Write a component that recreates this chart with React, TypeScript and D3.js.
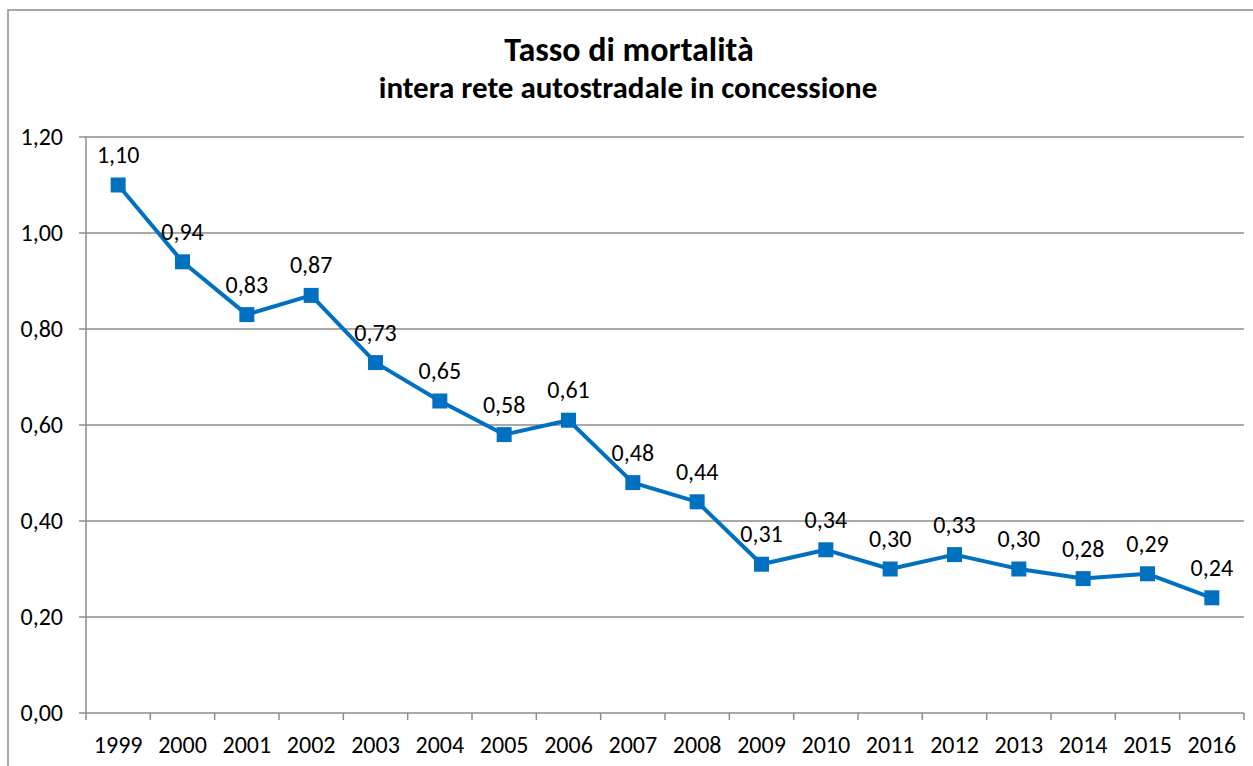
import React, { useEffect, useRef } from "react";
import * as d3 from "d3";

const years = ["1999", "2000", "2001", "2002", "2003", "2004", "2005", "2006", "2007", "2008", "2009", "2010", "2011", "2012", "2013", "2014", "2015", "2016"];
const rates = [1.10, 0.94, 0.83, 0.87, 0.73, 0.65, 0.58, 0.61, 0.48, 0.44, 0.31, 0.34, 0.30, 0.33, 0.30, 0.28, 0.29, 0.24];
const yTicks = [0, 0.2, 0.4, 0.6, 0.8, 1.0, 1.2];
const title = "Tasso di mortalità";
const subtitle = "intera rete autostradale in concessione";

const fmt = (v: number) => v.toFixed(2).replace(".", ",");

const App = () => {
    const ref = useRef<SVGSVGElement>(null);

    useEffect(() => {
        const svg = d3.select(ref.current);
        svg.selectAll("*").remove();

        const width = 1253, height = 766;
        const margin = { top: 137, right: 9, bottom: 53, left: 86 };
        const font = "Carlito, 'Open Sans', 'Liberation Sans', sans-serif";

        // outer frame (right/bottom fall outside the picture)
        svg.append("rect")
            .attr("x", 8).attr("y", 10)
            .attr("width", 1300).attr("height", 800)
            .attr("fill", "white")
            .attr("stroke", "#8c8c8c").attr("stroke-width", 1.5);

        const x = d3.scaleBand().domain(years).range([margin.left, width - margin.right]);
        const y = d3.scaleLinear().domain([0, 1.2]).range([height - margin.bottom, margin.top]);

        // gridlines
        svg.append("g")
            .selectAll("line")
            .data(yTicks)
            .join("line")
            .attr("x1", margin.left - 7)
            .attr("x2", width - margin.right)
            .attr("y1", d => y(d))
            .attr("y2", d => y(d))
            .attr("stroke", "#8c8c8c")
            .attr("stroke-width", 1.5);

        // y axis line
        svg.append("line")
            .attr("x1", margin.left).attr("x2", margin.left)
            .attr("y1", y(1.2)).attr("y2", y(0))
            .attr("stroke", "#8c8c8c").attr("stroke-width", 1.5);

        // y labels
        svg.append("g")
            .selectAll("text")
            .data(yTicks)
            .join("text")
            .attr("x", 63)
            .attr("y", d => y(d) + 8)
            .attr("text-anchor", "end")
            .attr("font-family", font)
            .attr("font-size", 24)
            .attr("fill", "#000")
            .text(d => fmt(d));

        // x tick marks at band edges
        const edges = years.map(d => x(d) as number).concat([width - margin.right]);
        svg.append("g")
            .selectAll("line")
            .data(edges)
            .join("line")
            .attr("x1", d => d).attr("x2", d => d)
            .attr("y1", y(0)).attr("y2", y(0) + 7)
            .attr("stroke", "#8c8c8c").attr("stroke-width", 1.5);

        // x labels
        svg.append("g")
            .selectAll("text")
            .data(years)
            .join("text")
            .attr("x", d => (x(d) as number) + x.bandwidth() / 2)
            .attr("y", 753)
            .attr("text-anchor", "middle")
            .attr("font-family", font)
            .attr("font-size", 24)
            .attr("fill", "#000")
            .text(d => d);

        const cx = (i: number) => (x(years[i]) as number) + x.bandwidth() / 2;

        const line = d3.line<number>()
            .x((_, i) => cx(i))
            .y(d => y(d));

        svg.append("path")
            .datum(rates)
            .attr("fill", "none")
            .attr("stroke", "#0070C0")
            .attr("stroke-width", 4)
            .attr("stroke-linejoin", "round")
            .attr("d", line);

        svg.append("g")
            .selectAll("rect")
            .data(rates)
            .join("rect")
            .attr("x", (_, i) => cx(i) - 7.5)
            .attr("y", d => y(d) - 7.5)
            .attr("width", 15)
            .attr("height", 15)
            .attr("fill", "#0070C0");

        // data labels
        svg.append("g")
            .selectAll("text")
            .data(rates)
            .join("text")
            .attr("x", (_, i) => cx(i))
            .attr("y", d => y(d) - 22)
            .attr("text-anchor", "middle")
            .attr("font-family", font)
            .attr("font-size", 24)
            .attr("fill", "#000")
            .text(d => fmt(d));

        svg.append("text")
            .attr("x", 629).attr("y", 61)
            .attr("text-anchor", "middle")
            .attr("font-family", font)
            .attr("font-weight", "bold")
            .attr("font-size", 34)
            .text(title);

        svg.append("text")
            .attr("x", 628).attr("y", 98)
            .attr("text-anchor", "middle")
            .attr("font-family", font)
            .attr("font-weight", "bold")
            .attr("font-size", 31)
            .text(subtitle);
    }, []);

    return <svg ref={ref} width={1253} height={766}
                style={{ position: "absolute", left: 0, top: 0, background: "white" }}/>;
};

export default App;
